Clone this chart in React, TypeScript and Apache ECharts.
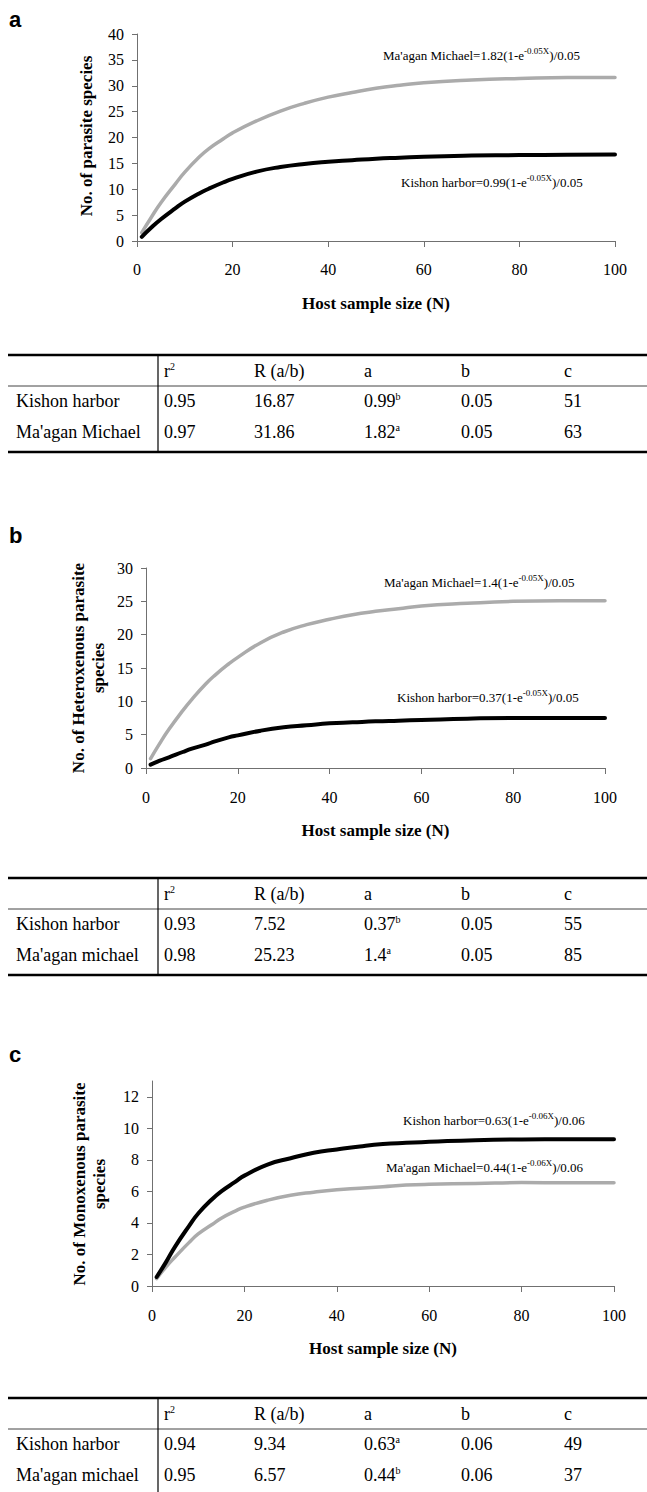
import React, { useEffect, useRef } from 'react';
import * as echarts from 'echarts';

// ---------- data ----------
const hostSizes = [1, 3, 5, 8, 10, 13, 15, 18, 20, 25, 30, 35, 40, 45, 50, 55, 60, 70, 80, 90, 100];
const xTicks = [0, 20, 40, 60, 80, 100];

// panel a: all parasite species
const aMaagan = [1.6, 4.6, 7.4, 11.0, 13.3, 16.2, 17.8, 19.7, 20.9, 23.2, 25.1, 26.6, 27.8, 28.7, 29.5, 30.1, 30.6, 31.1, 31.4, 31.6, 31.6];
const aKishon = [0.8, 2.6, 4.2, 6.3, 7.6, 9.2, 10.1, 11.3, 12.0, 13.4, 14.3, 14.9, 15.3, 15.6, 15.9, 16.1, 16.3, 16.5, 16.6, 16.65, 16.7];
// panel b: heteroxenous
const bMaagan = [1.4, 3.7, 5.8, 8.6, 10.3, 12.6, 13.9, 15.6, 16.6, 18.8, 20.4, 21.5, 22.3, 23.0, 23.5, 23.9, 24.3, 24.7, 25.0, 25.1, 25.1];
const bKishon = [0.5, 1.1, 1.6, 2.4, 2.9, 3.5, 4.0, 4.6, 4.9, 5.6, 6.1, 6.4, 6.7, 6.85, 7.0, 7.1, 7.2, 7.4, 7.5, 7.5, 7.5];
// panel c: monoxenous
const cKishon = [0.57, 1.5, 2.5, 3.8, 4.6, 5.5, 6.0, 6.6, 7.0, 7.7, 8.1, 8.45, 8.66, 8.85, 9.0, 9.08, 9.14, 9.25, 9.29, 9.3, 9.3];
const cMaagan = [0.47, 1.2, 1.84, 2.75, 3.3, 3.9, 4.3, 4.75, 5.0, 5.44, 5.76, 5.95, 6.1, 6.2, 6.3, 6.4, 6.45, 6.5, 6.56, 6.55, 6.55];

const aYTicks = [0, 5, 10, 15, 20, 25, 30, 35, 40];
const bYTicks = [0, 5, 10, 15, 20, 25, 30];
const cYTicks = [0, 2, 4, 6, 8, 10, 12];

const aEquations = [
  { site: "Ma'agan Michael", a: '1.82', b: '0.05' },
  { site: 'Kishon harbor', a: '0.99', b: '0.05' },
];
const bEquations = [
  { site: "Ma'agan Michael", a: '1.4', b: '0.05' },
  { site: 'Kishon harbor', a: '0.37', b: '0.05' },
];
const cEquations = [
  { site: 'Kishon harbor', a: '0.63', b: '0.06' },
  { site: "Ma'agan Michael", a: '0.44', b: '0.06' },
];

const tableHeader = ['r{sup|2}', 'R (a/b)', 'a', 'b', 'c'];
const aTable = [
  { site: 'Kishon harbor', r2: '0.95', R: '16.87', a: '0.99', aSig: 'b', b: '0.05', c: '51' },
  { site: "Ma'agan Michael", r2: '0.97', R: '31.86', a: '1.82', aSig: 'a', b: '0.05', c: '63' },
];
const bTable = [
  { site: 'Kishon harbor', r2: '0.93', R: '7.52', a: '0.37', aSig: 'b', b: '0.05', c: '55' },
  { site: "Ma'agan michael", r2: '0.98', R: '25.23', a: '1.4', aSig: 'a', b: '0.05', c: '85' },
];
const cTable = [
  { site: 'Kishon harbor', r2: '0.94', R: '9.34', a: '0.63', aSig: 'a', b: '0.06', c: '49' },
  { site: "Ma'agan michael", r2: '0.95', R: '6.57', a: '0.44', aSig: 'b', b: '0.06', c: '37' },
];

// ---------- layout / style ----------
const SERIF = '"Liberation Serif", "Times New Roman", serif';
const SANS = '"Liberation Sans", Arial, sans-serif';
const GRAY = '#ababab';
const BLACK = '#000000';
const AXIS = '#707070';

const panels = [
  {
    letter: 'a', letterY: 19,
    grid: { left: 137, top: 34, width: 478, height: 207 },
    yMax: 40, yInterval: 5, yTicks: aYTicks,
    titleLines: ['No. of parasite species'], titleX: [86], titleY: 136,
    xLabelMargin: 20, xTitleY: 303,
    equations: aEquations, eqPos: [{ x: 383, y: 55 }, { x: 401, y: 182 }],
    series: [
      { name: "Ma'agan Michael", values: aMaagan, color: GRAY, width: 3.5 },
      { name: 'Kishon harbor', values: aKishon, color: BLACK, width: 4 },
    ],
    table: aTable, tableTop: 355, tableBottom: true,
  },
  {
    letter: 'b', letterY: 535,
    grid: { left: 146, top: 568, width: 459, height: 200 },
    yMax: 30, yInterval: 5, yTicks: bYTicks,
    titleLines: ['No. of Heteroxenous parasite', 'species'], titleX: [78, 98], titleY: 668,
    xLabelMargin: 21, xTitleY: 830,
    equations: bEquations, eqPos: [{ x: 384, y: 582 }, { x: 397, y: 697 }],
    series: [
      { name: "Ma'agan Michael", values: bMaagan, color: GRAY, width: 3.5 },
      { name: 'Kishon harbor', values: bKishon, color: BLACK, width: 4 },
    ],
    table: bTable, tableTop: 878, tableBottom: true,
  },
  {
    letter: 'c', letterY: 1054,
    grid: { left: 152, top: 1081, width: 462, height: 205 },
    yMax: 13, yInterval: 2, yTicks: cYTicks,
    titleLines: ['No. of Monoxenous parasite', 'species'], titleX: [79, 99], titleY: 1184,
    xLabelMargin: 21, xTitleY: 1348,
    equations: cEquations, eqPos: [{ x: 403, y: 1120 }, { x: 386, y: 1167 }],
    series: [
      { name: "Ma'agan Michael", values: cMaagan, color: GRAY, width: 3.5 },
      { name: 'Kishon harbor', values: cKishon, color: BLACK, width: 4 },
    ],
    table: cTable, tableTop: 1398, tableBottom: false,
  },
];

const tableCols = [164, 254, 364, 461, 564];
const tableLeft = 8;
const tableRight = 647;
const tableDivider = 158;

function buildOption() {
  const grids: any[] = [];
  const xAxes: any[] = [];
  const yAxes: any[] = [];
  const series: any[] = [];
  const graphic: any[] = [];

  const supRich = {
    sup: { fontSize: 9, fontFamily: SERIF, fill: '#000', verticalAlign: 'top', lineHeight: 9 },
  };
  const tSupRich = {
    sup: { fontSize: 10, fontFamily: SERIF, fill: '#000', verticalAlign: 'top', lineHeight: 10 },
  };

  panels.forEach((p, i) => {
    grids.push({ ...p.grid, containLabel: false });
    xAxes.push({
      type: 'value', gridIndex: i, min: 0, max: 100, interval: 20,
      axisLine: { show: true, onZero: false, lineStyle: { color: AXIS, width: 1 } },
      axisTick: { show: true, length: 6, inside: false, lineStyle: { color: AXIS, width: 1 } },
      axisLabel: { show: true, margin: p.xLabelMargin, fontFamily: SERIF, fontSize: 16, color: '#000',
        customValues: xTicks },
      splitLine: { show: false },
    });
    yAxes.push({
      type: 'value', gridIndex: i, min: 0, max: p.yMax, interval: p.yInterval,
      axisLine: { show: true, lineStyle: { color: AXIS, width: 1 } },
      axisTick: { show: true, length: 5, inside: false, lineStyle: { color: AXIS, width: 1 },
        customValues: p.yTicks },
      axisLabel: { show: true, margin: 13, fontFamily: SERIF, fontSize: 16, color: '#000',
        customValues: p.yTicks },
      splitLine: { show: false },
    });
    p.series.forEach((s) => {
      series.push({
        type: 'line', name: s.name, xAxisIndex: i, yAxisIndex: i,
        data: hostSizes.map((x, k) => [x, s.values[k]]),
        showSymbol: false, symbol: 'none', smooth: 0.5,
        lineStyle: { color: s.color, width: s.width, cap: 'round', join: 'round' },
        silent: true,
      });
    });

    // panel letter
    graphic.push({
      type: 'text', x: 9, y: p.letterY,
      style: { text: p.letter, fontFamily: SANS, fontWeight: 'bold', fontSize: 22, fill: '#000',
        textAlign: 'left', textVerticalAlign: 'middle' },
    });
    // y title
    p.titleLines.forEach((line, li) => {
      graphic.push({
        type: 'text', x: p.titleX[li], y: p.titleY, rotation: Math.PI / 2,
        style: { text: line, fontFamily: SERIF, fontWeight: 'bold', fontSize: 17, fill: '#000',
          textAlign: 'center', textVerticalAlign: 'middle' },
      });
    });
    // x title
    graphic.push({
      type: 'text', x: p.grid.left + p.grid.width / 2, y: p.xTitleY,
      style: { text: 'Host sample size (N)', fontFamily: SERIF, fontWeight: 'bold', fontSize: 17, fill: '#000',
        textAlign: 'center', textVerticalAlign: 'middle' },
    });
    // equations
    p.equations.forEach((e, ei) => {
      graphic.push({
        type: 'text', x: p.eqPos[ei].x, y: p.eqPos[ei].y,
        style: {
          text: `${e.site}=${e.a}(1-e{sup|-${e.b}X})/${e.b}`,
          fontFamily: SERIF, fontSize: 13, fill: '#000', lineHeight: 17,
          textAlign: 'left', textVerticalAlign: 'middle', rich: supRich,
        },
      });
    });

    // table
    const T = p.tableTop;
    const headerY = T + 16;
    const sepY = T + 31;
    const rowYs = [T + 46, T + 77];
    const bottomY = T + 97;
    graphic.push({ type: 'line', shape: { x1: tableLeft, y1: T, x2: tableRight, y2: T },
      style: { stroke: '#000', lineWidth: 2.5 } });
    graphic.push({ type: 'line', shape: { x1: tableLeft, y1: sepY, x2: tableRight, y2: sepY },
      style: { stroke: '#444', lineWidth: 1 } });
    graphic.push({ type: 'line', shape: { x1: tableDivider, y1: T, x2: tableDivider, y2: p.tableBottom ? bottomY : 1492 },
      style: { stroke: '#000', lineWidth: 1.2 } });
    if (p.tableBottom) {
      graphic.push({ type: 'line', shape: { x1: tableLeft, y1: bottomY, x2: tableRight, y2: bottomY },
        style: { stroke: '#000', lineWidth: 2.5 } });
    }
    tableHeader.forEach((h, hi) => {
      graphic.push({
        type: 'text', x: tableCols[hi], y: headerY,
        style: { text: h, fontFamily: SERIF, fontSize: 18, fill: '#000', lineHeight: 20,
          textAlign: 'left', textVerticalAlign: 'middle', rich: tSupRich },
      });
    });
    p.table.forEach((r, ri) => {
      const y = rowYs[ri];
      const cells = [r.r2, r.R, `${r.a}{sup|${r.aSig}}`, r.b, r.c];
      graphic.push({
        type: 'text', x: 16, y,
        style: { text: r.site, fontFamily: SERIF, fontSize: 18, fill: '#000',
          textAlign: 'left', textVerticalAlign: 'middle' },
      });
      cells.forEach((c, ci) => {
        graphic.push({
          type: 'text', x: tableCols[ci], y,
          style: { text: c, fontFamily: SERIF, fontSize: 18, fill: '#000', lineHeight: 20,
            textAlign: 'left', textVerticalAlign: 'middle', rich: tSupRich },
        });
      });
    });
  });

  return {
    animation: false,
    backgroundColor: '#ffffff',
    textStyle: { fontFamily: SERIF },
    grid: grids,
    xAxis: xAxes,
    yAxis: yAxes,
    series,
    graphic,
  };
}

export default function App() {
  const ref = useRef<HTMLDivElement>(null);
  useEffect(() => {
    document.body.style.margin = '0';
    if (!ref.current) return;
    const chart = echarts.init(ref.current, undefined, { renderer: 'svg' });
    chart.setOption(buildOption() as any);
    return () => chart.dispose();
  }, []);
  return (
    <div
      ref={ref}
      style={{ position: 'absolute', left: 0, top: 0, width: 647, height: 1492, background: '#fff' }}
    />
  );
}
